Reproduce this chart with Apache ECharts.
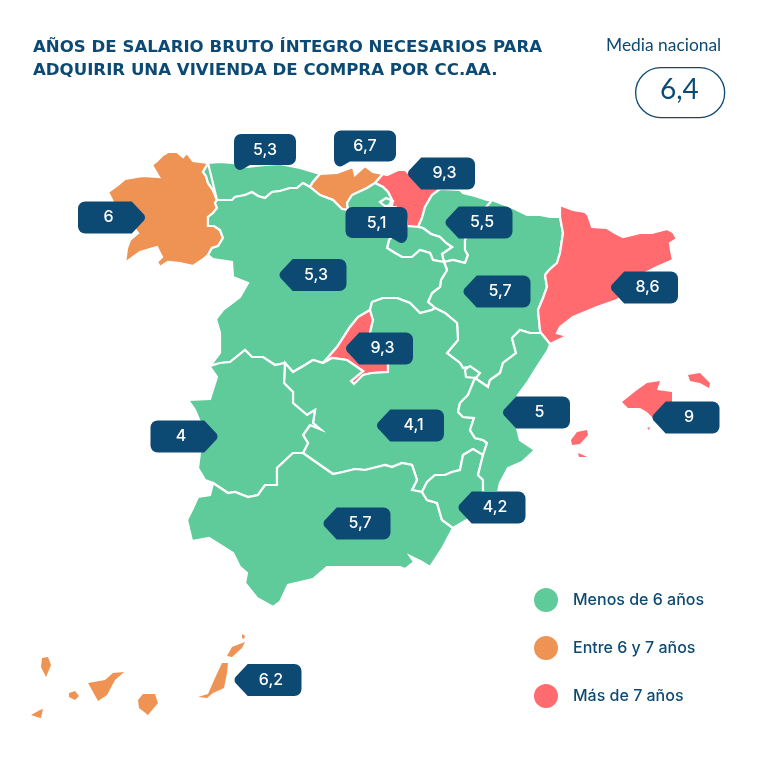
<!DOCTYPE html>
<html>
<head>
<meta charset="utf-8">
<style>html,body{margin:0;padding:0;background:#fff}#chart{width:768px;height:768px}</style>
<script src="https://cdn.jsdelivr.net/npm/echarts@6/dist/echarts.min.js"></script>
</head>
<body>
<div id="chart"></div>
<script>
// datos
const regions = ['Galicia','Asturias','Cantabria','País Vasco','Navarra','La Rioja','Aragón','Cataluña','Castilla y León','Madrid','Castilla-La Mancha','C. Valenciana','Extremadura','Andalucía','Murcia','Baleares','Canarias']
const regionValues = [6,5.3,6.7,9.3,5.5,5.1,5.7,8.6,5.3,9.3,4.1,5,4,5.7,4.2,9,6.2]
const legendLabels = ['Menos de 6 años','Entre 6 y 7 años','Más de 7 años']
const legendBreaks = [6,7]
const nationalLabel = 'Media nacional'
const nationalValue = '6,4'

const DARK = '#0d4a73'
const COLORS = ['#5fca9a','#ee9353','#ff6b6f']
const FONT = 'Lato'

// colocación de las etiquetas: centro de la caja y forma
const calloutLayout = {
  'Galicia': [111.5,217.5,'right'],
  'Asturias': [265,152,'tailLeft'],
  'Cantabria': [365,148.5,'tailLeft'],
  'País Vasco': [441.5,173.5,'left'],
  'Navarra': [479,222.5,'left'],
  'La Rioja': [376.5,225,'tailRight'],
  'Aragón': [497,291.5,'left'],
  'Cataluña': [644.5,287.5,'left'],
  'Castilla y León': [313,275,'left'],
  'Madrid': [379.5,348.5,'left'],
  'Castilla-La Mancha': [410.5,425.5,'left'],
  'C. Valenciana': [536.5,412.5,'left'],
  'Extremadura': [184,436.5,'right'],
  'Andalucía': [357,523.5,'left'],
  'Murcia': [492,507.5,'left'],
  'Baleares': [686,417.5,'left'],
  'Canarias': [268,680,'left']
}
const calloutShapes = {
  left: {size:[67,32],dx:3,path:'path://M14 0H60a7 7 0 0 1 7 7V25a7 7 0 0 1-7 7H14L2 19Q0 16 2 13Z'},
  right: {size:[67,32],dx:-3,path:'path://M7 0H53L65 13Q67 16 65 19L53 32H7a7 7 0 0 1-7-7V7a7 7 0 0 1 7-7Z'},
  tailLeft: {size:[62,36],dx:0,dy:-2,path:'path://M7 0H55a7 7 0 0 1 7 7V24a7 7 0 0 1-7 7H16L9 35Q6 37 3 35Q0 33 0 28V7a7 7 0 0 1 7-7Z'},
  tailRight: {size:[62,36],dx:0,dy:-2,path:'path://M7 0H55a7 7 0 0 1 7 7V28Q62 33 59 35Q56 37 53 35L46 31H7a7 7 0 0 1-7-7V7a7 7 0 0 1 7-7Z'}
}

// fronteras compartidas, en píxeles de la lámina
const bGalCyL = [[208,255],[212,248],[218,246],[223,238],[220,230],[214,226],[208,226],[208,217],[213,213],[217,208],[215,203],[217,200]]
const bGalAst = [[217,200],[213,190],[208,183],[206,176],[203,172],[206,167],[208,163]]
const coastGal = [[208,163],[193,161],[187,153],[183,157],[177,152],[168,152],[163,155],[157,161],[152,165],[159,177],[143,176],[125,179],[118,185],[108,192],[113,202],[120,215],[132,225],[138,233],[130,240],[127,248],[125,263],[140,252],[157,247],[162,257],[157,262],[160,267],[168,262],[180,263],[193,266],[202,260],[208,255]]
const coastAst = [[208,163],[220,162],[233,163],[247,167],[265,165],[280,164],[300,168],[320,174]]
const bAstCan = [[320,174],[313,182],[310,187]]
const bAstCyL = [[310,187],[303,183],[297,188],[290,188],[280,191],[272,192],[265,198],[258,196],[252,192],[245,195],[235,197],[232,200],[225,200],[217,200]]
const coastCan = [[320,174],[337,173],[353,167],[355,175],[365,166],[373,172],[383,174]]
const bCanPV = [[383,174],[375,183]]
const bCanCyL = [[375,183],[367,188],[352,195],[347,203],[348,210],[342,209],[333,200],[320,195],[310,187]]
const bPVCyL = [[375,183],[383,187],[388,192],[392,200],[388,207],[395,207],[405,212],[407,226]]
const bPVRio = [[407,226],[418,227]]
const bPVNav = [[418,227],[422,218],[425,207],[432,195],[440,189]]
const coastPV = [[440,189],[425,183],[412,176],[405,170],[398,170],[387,175],[383,174]]
const coastNav = [[440,189],[460,190],[463,193],[475,196],[487,200],[492,200]]
const bNavAra = [[492,200],[480,215],[470,230],[465,240],[465,250],[468,255],[465,263],[453,260],[444,262]]
const bNavRio = [[444,262],[442,254],[452,247],[446,243],[440,237],[431,234],[423,228],[418,227]]
const bRioCyL = [[444,262],[433,260],[430,253],[420,250],[412,257],[402,257],[395,253],[387,248],[389,240],[395,232],[407,226]]
const bAraPyr = [[492,200],[505,205],[513,208],[527,215],[540,215],[550,217],[560,217]]
const bAraCat = [[560,217],[563,233],[560,253],[557,263],[549,270],[545,275],[547,287],[543,298],[538,310],[540,330],[541,333]]
const bAraVal = [[541,333],[530,333],[520,330],[512,338],[516,353],[503,363],[500,373],[490,380],[488,387],[475,378]]
const bAraCLM = [[475,378],[478,373],[470,367],[463,368],[460,363],[447,353],[458,340],[457,323],[445,313],[435,308]]
const bAraCyL = [[435,308],[428,302],[432,293],[440,287],[441,280],[447,270],[444,262]]
const coastCat = [[560,217],[560,205],[573,210],[585,212],[588,215],[592,227],[607,228],[615,233],[623,237],[640,233],[652,233],[667,229],[673,232],[677,239],[670,243],[671,250],[673,260],[657,267],[645,273],[630,290],[617,300],[597,307],[573,317],[560,327],[557,333],[567,336],[550,344],[541,333]]
const coastVal = [[541,333],[550,344],[548,350],[535,370],[527,383],[518,395],[510,412],[517,428],[520,440],[535,450],[522,462],[508,468],[500,483],[498,492]]
const bValMur = [[498,492],[483,492],[483,480],[478,475],[483,455]]
const bValCLM = [[483,455],[487,443],[483,440],[475,438],[470,430],[474,418],[463,417],[458,412],[460,403],[468,395],[475,378]]
const coastMur = [[498,492],[490,510],[470,518],[453,528]]
const bMurAnd = [[453,528],[442,520],[437,503],[427,500],[422,492]]
const bMurCLM = [[422,492],[427,482],[435,475],[445,475],[452,472],[460,470],[463,455],[473,449],[483,455]]
const bAndCLM = [[422,492],[412,490],[417,480],[412,465],[402,463],[392,467],[385,465],[377,467],[365,470],[355,469],[343,472],[333,474],[320,465],[303,453]]
const bExtCyL = [[210,366],[220,363],[230,362],[245,350],[252,357],[263,357],[275,365],[285,363]]
const bExtCLM = [[285,363],[284,383],[293,392],[293,403],[307,415],[315,410],[313,423],[320,429],[310,425],[303,435],[308,443],[303,453]]
const bExtAnd = [[303,453],[293,453],[277,468],[277,485],[265,485],[258,495],[248,497],[235,492],[228,493],[213,483]]
const coastExt = [[213,483],[205,480],[198,468],[200,452],[206,437],[200,422],[195,410],[188,400],[210,399],[217,377],[210,367],[210,366]]
const coastAnd = [[453,528],[443,547],[430,567],[422,562],[410,556],[414,562],[405,569],[400,567],[370,567],[327,567],[313,579],[288,585],[280,602],[273,607],[257,598],[245,583],[247,573],[240,567],[233,553],[209,538],[192,541],[187,520],[192,510],[198,497],[210,495],[213,483]]
const bCLMCyLW = [[285,363],[293,372],[305,365],[313,360],[323,363]]
const bCLMCyLE = [[370,310],[372,302],[383,298],[397,298],[410,303],[420,313],[432,310],[435,308]]
const bMadCyL = [[323,363],[337,347],[350,327],[358,317],[370,310]]
const bMadCLM = [[323,363],[332,358],[347,360],[363,371],[351,381],[354,384],[363,375],[372,373],[388,372],[388,360],[378,345],[370,333],[373,320],[370,310]]
const portugal = [[210,366],[220,353],[220,333],[216,319],[223,310],[240,297],[248,283],[233,277],[232,262],[213,259],[208,255]]

const rev = a => a.slice().reverse()
const ring = (...parts) => {
  const pts = [].concat(...parts)
  pts.push(pts[0])
  return pts
}

// el orden importa: los enclaves van encima
const regionShapes = {
  'Galicia': [ring(bGalCyL,bGalAst,coastGal)],
  'Asturias': [ring(coastAst,bAstCan,bAstCyL,rev(bGalAst))],
  'Cantabria': [ring(coastCan,bCanPV,bCanCyL,rev(bAstCan))],
  'País Vasco': [ring(rev(coastPV),rev(bPVNav),rev(bPVRio),rev(bPVCyL),rev(bCanPV))],
  'Navarra': [ring(coastNav,bNavAra,bNavRio,bPVNav)],
  'La Rioja': [ring(bPVRio,rev(bNavRio),bRioCyL)],
  'Aragón': [ring(bAraPyr,bAraCat,bAraVal,bAraCLM,bAraCyL,rev(bNavAra))],
  'Cataluña': [ring(coastCat,rev(bAraCat))],
  'Castilla y León': [
    ring(bGalCyL,rev(bAstCyL),rev(bCanCyL),bPVCyL,rev(bRioCyL),rev(bAraCyL),rev(bCLMCyLE),rev(bMadCyL),rev(bCLMCyLW),rev(bExtCyL),portugal),
    [[380,202],[386,198],[393,201],[392,205],[385,206],[380,202]]
  ],
  'Madrid': [ring(bMadCyL,rev(bMadCLM))],
  'Castilla-La Mancha': [ring(bCLMCyLE,rev(bAraCLM),rev(bValCLM),rev(bMurCLM),bAndCLM,rev(bExtCLM),bCLMCyLW,bMadCLM)],
  'Extremadura': [ring(bExtCyL,bExtCLM,bExtAnd,coastExt)],
  'Andalucía': [ring(rev(bExtAnd),rev(bAndCLM),rev(bMurAnd),coastAnd)],
  'Murcia': [ring(coastMur,bMurAnd,bMurCLM,rev(bValMur))],
  'C. Valenciana': [
    ring(coastVal,bValMur,bValCLM,rev(bAraVal)),
    [[465,370],[470,366],[480,373],[476,378],[466,377],[465,370]]
  ],
  'Baleares': [
    [[622,402],[637,390],[647,383],[660,381],[657,390],[672,392],[672,402],[660,412],[653,418],[647,412],[640,408],[628,408],[622,402]],
    [[688,375],[700,373],[710,383],[709,388],[700,383],[690,381],[688,375]],
    [[571,440],[577,432],[587,430],[588,435],[580,444],[572,445],[571,440]],
    [[578,453],[583,455],[587,457],[579,457],[578,453]],
    [[647,428],[650,427],[649,430],[647,428]]
  ],
  'Canarias': [
    [[42,658],[48,657],[51,665],[46,677],[41,667],[42,658]],
    [[31,715],[40,710],[43,709],[41,718],[37,717],[31,715]],
    [[69,693],[75,691],[79,696],[75,700],[69,697],[69,693]],
    [[88,683],[105,680],[113,673],[124,672],[115,680],[107,695],[98,701],[92,690],[88,683]],
    [[143,694],[155,694],[158,703],[148,715],[139,708],[138,700],[143,694]],
    [[222,663],[228,663],[227,673],[224,688],[213,693],[207,698],[198,697],[208,694],[215,678],[222,663]],
    [[232,647],[245,642],[242,648],[232,657],[227,656],[232,647]],
    [[242,634],[245,636],[244,639],[242,638],[242,634]]
  ]
}

echarts.registerMap('espana', {
  type: 'FeatureCollection',
  features: Object.keys(regionShapes).map(name => ({
    type: 'Feature',
    properties: {name},
    geometry: {type: 'MultiPolygon', coordinates: regionShapes[name].map(r => [r])}
  }))
})

const calloutData = regions.map((name,i) => {
  const [x,y,shape] = calloutLayout[name]
  const s = calloutShapes[shape]
  return {
    name,
    value: [x,y,regionValues[i]],
    symbol: s.path,
    symbolSize: s.size,
    label: {offset: [s.dx, s.dy || 0]}
  }
})

const chart = echarts.init(document.getElementById('chart'))
chart.setOption({
  animation: false,
  backgroundColor: '#fff',
  title: [
    {
      text: 'AÑOS DE SALARIO BRUTO ÍNTEGRO NECESARIOS PARA\nADQUIRIR UNA VIVIENDA DE COMPRA POR CC.AA.',
      left: 28, top: 31,
      textStyle: {fontFamily: 'DejaVu Sans', fontSize: 16.6, fontWeight: 'bold', color: DARK, lineHeight: 23}
    },
    {
      text: nationalLabel,
      left: 601, top: 32,
      textStyle: {fontFamily: FONT, fontSize: 17.4, fontWeight: 'normal', color: DARK}
    }
  ],
  graphic: [
    {
      type: 'rect', left: 635, top: 67,
      shape: {width: 89, height: 50, r: 25},
      style: {fill: '#fff', stroke: DARK, lineWidth: 1.3}
    },
    {
      type: 'text', left: 660, top: 76,
      style: {text: nationalValue, fill: DARK, font: '400 28px ' + FONT}
    }
  ],
  visualMap: {
    type: 'piecewise',
    seriesIndex: 0,
    dimension: 0,
    orient: 'vertical',
    left: 519, top: 573,
    align: 'left',
    inverse: true,
    itemSymbol: 'circle',
    itemWidth: 24, itemHeight: 24,
    itemGap: 24,
    textGap: 15,
    selectedMode: false,
    hoverLink: false,
    textStyle: {fontFamily: 'Inter', fontSize: 16, fontWeight: 500, color: DARK},
    pieces: [
      {lt: legendBreaks[0], label: legendLabels[0], color: COLORS[0]},
      {gte: legendBreaks[0], lt: legendBreaks[1], label: legendLabels[1], color: COLORS[1]},
      {gte: legendBreaks[1], label: legendLabels[2], color: COLORS[2]}
    ]
  },
  geo: {
    map: 'espana',
    silent: true,
    roam: false,
    projection: {project: p => p, unproject: p => p},
    boundingCoords: [[0,0],[768,768]],
    layoutCenter: ['50%','50%'],
    layoutSize: 768,
    itemStyle: {areaColor: COLORS[0], borderColor: '#fff', borderWidth: 2.2},
    regions: [
      {name: 'Baleares', itemStyle: {borderWidth: 0}},
      {name: 'Canarias', itemStyle: {borderWidth: 0}}
    ],
    emphasis: {disabled: true},
    label: {show: false}
  },
  series: [
    {
      type: 'map',
      geoIndex: 0,
      silent: true,
      data: regions.map((name,i) => ({name, value: regionValues[i]}))
    },
    {
      type: 'scatter',
      coordinateSystem: 'geo',
      silent: true,
      z: 5,
      itemStyle: {color: DARK, opacity: 1},
      label: {
        show: true,
        position: 'inside',
        color: '#fff',
        fontFamily: 'Inter',
        fontWeight: 500,
        fontSize: 16,
        formatter: p => String(p.value[2]).replace('.', ',')
      },
      data: calloutData
    }
  ]
})
</script>
</body>
</html>
